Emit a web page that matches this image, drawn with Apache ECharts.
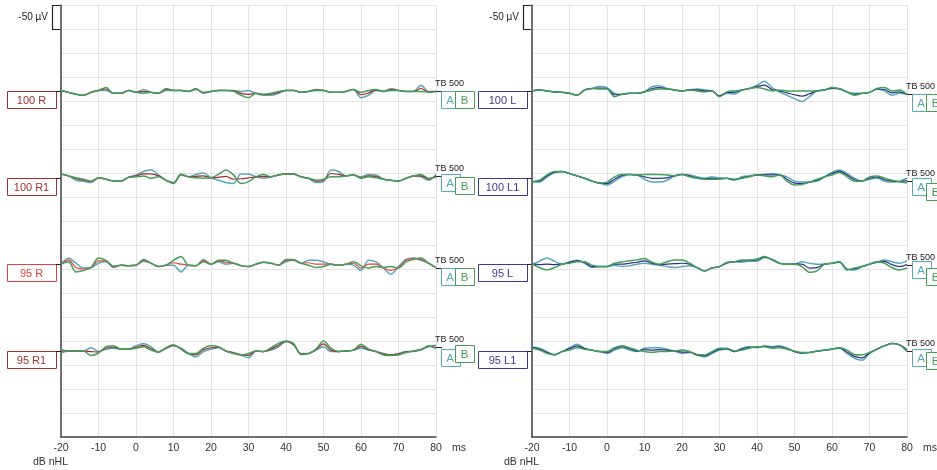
<!DOCTYPE html>
<html><head><meta charset="utf-8">
<script src="https://cdn.jsdelivr.net/npm/echarts/dist/echarts.min.js"></script>
<style>html,body{margin:0;padding:0;background:#fff}#c{width:937px;height:470px}</style>
</head><body><div id="c"></div>
<script>
// time axis (ms), sampled every 2 ms
const timeMs = [-20,-18,-16,-14,-12,-10,-8,-6,-4,-2,0,2,4,6,8,10,12,14,16,18,20,22,24,26,28,30,32,34,36,38,40,42,44,46,48,50,52,54,56,58,60,62,64,66,68,70,72,74,76,78,80];
const xTickLabels = [-20,-10,0,10,20,30,40,50,60,70,80];
const rowLabelsRight = ['100 R','100 R1','95 R','95 R1'];
const rowLabelsLeftEar = ['100 L','100 L1','95 L','95 L1'];
const scaleBarUv = 50;
const stimulus = 'TB 500';

// amplitudes in µV (negative plotted upward); A and B sub-averages and their mean
// 100 R
const r100A   = [-2,2,6,8,2,-2,-2,4,4,-2,2,-4,2,4,-2,-2,-2,0,-6,4,0,-2,-2,-2,0,-2,4,8,8,4,-2,-2,2,0,-4,-2,2,2,0,-4,13,8,-2,0,-6,-2,0,0,-13,0,0];
const r100B   = [-2,2,6,8,2,-2,-8,4,4,-2,2,4,2,4,-6,-2,-2,0,-4,2,0,-2,-2,0,8,13,4,6,4,0,-2,-2,2,0,-2,-2,2,2,0,-4,2,-2,-4,0,-2,-2,0,0,0,2,0];
const r100Avg = [-2,2,6,8,2,-2,-5,4,4,-2,2,0,2,4,-4,-2,-2,0,-5,3,0,-2,-2,-1,4,6,4,7,6,2,-2,-2,2,0,-3,-2,2,2,0,-4,7,3,-3,0,-4,-2,0,0,-6,1,0];
// 100 R1
const r100r1A   = [-8,-4,5,7,10,0,3,7,7,-1,-6,-13,-17,-6,5,12,-6,-2,-7,-10,0,5,10,12,-8,-8,-2,1,-2,-6,-8,-8,-2,1,10,8,-16,-13,-4,-6,-2,-7,-6,3,5,7,1,-4,-2,5,-7];
const r100r1B   = [-8,-4,0,3,7,0,3,7,7,-1,-2,-4,1,-2,5,10,-8,-2,0,1,0,-7,-16,-6,12,8,-2,-7,-2,-6,-8,-8,-2,1,5,3,-2,-2,-4,-6,1,-2,0,3,5,7,1,-4,-7,1,-1];
const r100r1Avg = [-8,-4,2,5,8,0,3,7,7,-1,-4,-8,-8,-4,5,11,-7,-2,-3,-4,0,-1,-3,3,2,0,-2,-3,-2,-6,-8,-8,-2,1,7,5,-9,-7,-4,-6,0,-4,-3,3,5,7,1,-4,-4,3,-4];
// 95 R
const r95A   = [0,-13,-2,8,7,-2,-5,7,2,3,2,-6,-2,5,2,2,16,2,3,-10,0,-5,0,-2,3,5,0,-4,-2,2,-5,-8,-2,-8,-8,-5,0,2,0,2,13,-8,-5,8,21,5,-10,-13,-8,-2,7];
const r95B   = [0,-5,16,13,7,-13,-8,4,2,3,2,-10,-2,5,2,-8,-16,2,3,-5,0,-8,-8,-2,3,5,0,-4,-2,2,-10,-10,-2,2,7,5,0,2,0,-5,3,8,5,7,5,8,-5,-10,-13,-2,7];
const r95Avg = [0,-9,7,10,7,-7,-7,6,2,3,2,-8,-2,5,2,-3,0,2,3,-8,0,-7,-4,-2,3,5,0,-4,-2,2,-8,-9,-2,-3,0,0,0,2,0,-2,8,0,0,8,13,7,-8,-12,-10,-2,7];
// 95 R1
const r95r1A   = [-3,1,1,1,-6,2,-3,-5,-3,-3,-10,-15,-8,3,-5,-10,-5,6,13,2,-3,-6,1,4,9,15,1,2,-1,-8,-19,-12,6,6,-1,-8,2,2,1,-1,-5,-1,2,6,9,6,2,2,-1,-10,-3];
const r95r1B   = [5,1,1,1,10,5,-8,-10,-3,-3,-5,-8,-1,3,-6,-12,-3,6,6,-5,-10,-8,1,6,9,6,1,2,-6,-15,-20,-15,8,6,-3,-20,-5,2,1,-1,-13,-3,2,9,10,9,4,1,-3,-8,-11];
const r95r1Avg = [1,1,1,1,2,3,-5,-7,-3,-3,-7,-11,-4,3,-5,-11,-4,6,9,-2,-6,-7,1,5,9,10,1,2,-3,-11,-19,-13,7,6,-2,-14,-1,2,1,-1,-9,-2,2,7,9,7,3,1,-2,-9,-7];
// 100 L
const l100A   = [-1,-3,-1,1,2,4,8,-3,-6,-10,-8,4,6,4,4,1,-10,-12,-6,-3,-1,-3,-5,-3,-1,9,4,6,-3,-6,-13,-21,-8,1,8,15,21,11,-1,-3,-6,-6,1,4,4,2,-5,-1,8,4,6];
const l100B   = [-1,-3,-1,1,2,4,8,-3,-6,-5,-5,11,6,4,4,1,-3,-5,-5,-3,-1,-3,-1,1,-1,11,1,-1,-3,-6,-8,-5,-1,-3,-1,-1,-1,-1,-1,-3,-8,-5,1,8,4,2,-6,-8,-1,-3,6];
const l100Avg = [-1,-3,-1,1,2,4,8,-3,-6,-7,-6,7,6,4,4,1,-6,-8,-5,-3,-1,-3,-3,-1,-1,10,2,2,-3,-6,-10,-13,-4,-1,3,7,10,5,-1,-3,-7,-5,1,6,4,2,-5,-4,3,1,6];
// 100 L1
const l100l1A   = [8,9,-2,-11,-13,-9,-4,1,7,11,15,7,-2,-7,-6,3,9,9,5,-4,-7,-6,-2,1,-2,0,1,5,-2,-4,-6,-7,-9,-6,-2,7,9,9,7,-2,-11,-16,-9,1,7,3,1,7,9,7,1];
const l100l1B   = [8,5,-6,-13,-13,-9,-4,1,7,11,9,-2,-7,-7,-6,-7,-7,-7,-6,-4,-7,-2,1,3,3,3,1,3,1,-2,-6,-4,-2,-6,7,15,14,9,3,-2,-6,-11,-2,7,7,-2,-4,1,5,8,11];
const l100l1Avg = [8,7,-4,-12,-13,-9,-4,1,7,11,12,3,-5,-7,-6,-2,1,1,0,-4,-7,-4,0,2,1,2,1,4,0,-3,-6,-6,-6,-6,3,11,12,9,5,-2,-9,-14,-6,4,7,1,-2,4,7,8,6];
// 95 L
const l95A   = [0,-6,-13,-6,0,-5,-8,-2,7,5,5,2,5,3,0,-2,0,2,5,7,5,3,7,14,8,5,-2,-5,-4,-6,-6,-14,-10,-2,0,0,-5,-2,0,0,-2,-4,10,12,5,0,-4,-9,-5,-2,-7];
const l95B   = [0,7,12,7,0,-2,-5,-5,2,5,5,-2,-5,-7,-9,-12,-4,0,-5,-9,-9,-2,7,14,8,5,-4,-5,-9,-9,-11,-16,-9,-2,0,0,5,17,14,0,-2,-5,12,8,5,0,-5,-2,7,12,8];
const l95Avg = [0,1,0,1,0,-4,-7,-4,5,5,5,0,0,-2,-4,-7,-2,1,0,-1,-2,0,7,14,8,5,-3,-5,-7,-8,-9,-15,-10,-2,0,0,0,8,7,0,-2,-5,11,10,5,0,-5,-6,1,5,1];
// 95 L1
const l95l1A   = [-8,-5,2,9,2,-6,-13,-5,-1,2,6,-1,-6,-1,2,-5,-6,-6,-3,1,6,4,9,13,6,-1,-3,2,-5,-8,-6,-10,-8,-10,-5,2,6,4,1,-1,-3,-5,6,16,20,6,-3,-10,-15,-12,-3];
const l95l1B   = [-5,-1,6,8,2,-1,-6,-3,-1,2,2,-6,-10,-6,-1,2,4,2,2,1,-1,2,8,9,2,-5,-5,1,-1,-5,-8,-8,-5,-6,-3,1,4,4,1,-1,-3,-6,-1,8,9,4,-3,-10,-15,-12,2];
const l95l1Avg = [-7,-3,4,9,2,-4,-10,-4,-1,2,4,-4,-8,-4,1,-2,-1,-2,-1,1,3,3,9,11,4,-3,-4,2,-3,-7,-7,-9,-7,-8,-4,2,5,4,1,-1,-3,-6,3,12,15,5,-3,-10,-15,-12,0];

// ---- layout / style ----
const COL_A = '#58a8ba', COL_B = '#44a058';
const DARKRED = '#a32a2a', RED = '#e8413c', NAVY = '#2f2f86';
const rowBaseUv = [180, 360, 540, 720];   // vertical offset of each row on the stacked axis
const panels = [
  { labels: rowLabelsRight,
    rows: [[r100A, r100B, r100Avg, DARKRED], [r100r1A, r100r1B, r100r1Avg, DARKRED], [r95A, r95B, r95Avg, RED], [r95r1A, r95r1B, r95r1Avg, DARKRED]] },
  { labels: rowLabelsLeftEar,
    rows: [[l100A, l100B, l100Avg, NAVY], [l100l1A, l100l1B, l100l1Avg, NAVY], [l95A, l95B, l95Avg, NAVY], [l95l1A, l95l1B, l95l1Avg, NAVY]] }
];

const chart = echarts.init(document.getElementById('c'), null, { renderer: 'canvas' });
const FONT = "'Liberation Sans', Arial, sans-serif";
const grids = [{ left: 61, top: 5, width: 375, height: 432 }, { left: 532, top: 5, width: 375, height: 432 }];
const xAxes = [], yAxes = [], series = [];
grids.forEach((g, gi) => {
  xAxes.push({ type: 'value', gridIndex: gi, min: xTickLabels[0], max: xTickLabels[xTickLabels.length - 1], interval: 10,
    axisLine: { show: true, onZero: false, lineStyle: { color: '#444', width: 1.5 } },
    axisTick: { show: false },
    axisLabel: { color: '#333', fontSize: 10.5, fontFamily: FONT, margin: 6 },
    splitLine: { show: true, lineStyle: { color: '#e4e4e4', width: 1 } } });
  yAxes.push({ type: 'value', gridIndex: gi, min: 0, max: 900, interval: scaleBarUv, inverse: true,
    axisLine: { show: true, onZero: false, lineStyle: { color: '#444', width: 1.5 } },
    axisTick: { show: false }, axisLabel: { show: false },
    splitLine: { show: true, lineStyle: { color: '#e4e4e4', width: 1 } } });
});
function lineSeries(gi, base, vals, color, w) {
  return { type: 'line', xAxisIndex: gi, yAxisIndex: gi, silent: true, animation: false,
    showSymbol: false, symbol: 'none', smooth: 0.3,
    data: timeMs.map((t, i) => [t, base + vals[i]]),
    lineStyle: { color: color, width: w } };
}
panels.forEach((p, gi) => {
  p.rows.forEach((r, ri) => {
    series.push(lineSeries(gi, rowBaseUv[ri], r[0], COL_A, 1.5));
    series.push(lineSeries(gi, rowBaseUv[ri], r[2], r[3], 1.2));
    series.push(lineSeries(gi, rowBaseUv[ri], r[1], COL_B, 1.5));
  });
});
chart.setOption({ animation: false, backgroundColor: '#fff', grid: grids, xAxis: xAxes, yAxis: yAxes, series: series });

// ---- annotations positioned through the axes ----
const els = [];
const P = (gi, x, y) => chart.convertToPixel({ gridIndex: gi }, [x, y]);
const R = v => Math.round(v) + 0.5;
panels.forEach((p, gi) => {
  const [ax, yTop] = P(gi, -20, 0);
  const [, y50] = P(gi, -20, scaleBarUv);
  const [xEnd, yBot] = P(gi, 80, 900);
  els.push({ type: 'polyline', shape: { points: [[ax - 1, R(yTop)], [R(ax - 9), R(yTop)], [R(ax - 9), R(y50)], [ax - 1, R(y50)]] },
    style: { stroke: '#222', lineWidth: 1.2, fill: null } });
  els.push({ type: 'text', x: ax - 13, y: (yTop + y50) / 2, style: { text: '-' + scaleBarUv + ' µV', align: 'right', verticalAlign: 'middle', fontSize: 10, fontFamily: FONT, fill: '#222' } });
  els.push({ type: 'text', x: xEnd + 16, y: yBot + 11, style: { text: 'ms', align: 'left', verticalAlign: 'middle', fontSize: 10.5, fontFamily: FONT, fill: '#333' } });
  els.push({ type: 'text', x: ax - 28, y: yBot + 25, style: { text: 'dB nHL', align: 'left', verticalAlign: 'middle', fontSize: 10.5, fontFamily: FONT, fill: '#333' } });
  p.rows.forEach((r, ri) => {
    const base = rowBaseUv[ri];
    const yS = R(P(gi, -20, base)[1]);
    const col = r[3] === NAVY ? '#3b3b8f' : (r[3] === RED ? '#e8413c' : '#a0302f');
    els.push({ type: 'rect', shape: { x: R(ax - 54), y: yS, width: 49, height: 17 }, style: { fill: '#fff', stroke: col, lineWidth: 1 } });
    els.push({ type: 'text', x: ax - 54 + 24.5, y: yS + 9, style: { text: p.labels[ri], align: 'center', verticalAlign: 'middle', fontSize: 11, fontFamily: FONT, fill: col } });
    els.push({ type: 'line', shape: { x1: ax - 5, y1: yS, x2: ax, y2: yS }, style: { stroke: '#222', lineWidth: 1 } });
    const n = timeMs.length - 1;
    const yAvgE = R(P(gi, 80, base + r[2][n])[1]);
    const yAE = R(P(gi, 80, base + r[0][n])[1]);
    const yBE = R(P(gi, 80, base + r[1][n])[1]);
    els.push({ type: 'line', shape: { x1: xEnd, y1: yAvgE, x2: xEnd + 6, y2: yAvgE }, style: { stroke: '#222', lineWidth: 1 } });
    els.push({ type: 'text', x: xEnd - 1, y: yAvgE - 8, style: { text: stimulus, align: 'left', verticalAlign: 'middle', fontSize: 9, fontFamily: "'Liberation Sans Narrow', 'Liberation Sans', sans-serif", fill: '#222' } });
    els.push({ type: 'rect', shape: { x: R(xEnd + 5), y: yAE, width: 19, height: 17 }, style: { fill: '#fff', stroke: COL_A, lineWidth: 1 } });
    els.push({ type: 'text', x: xEnd + 14, y: yAE + 9.5, style: { text: 'A', align: 'center', verticalAlign: 'middle', fontSize: 11.5, fontFamily: FONT, fill: COL_A } });
    els.push({ type: 'rect', shape: { x: R(xEnd + 19), y: yBE, width: 19, height: 17 }, style: { fill: '#fff', stroke: COL_B, lineWidth: 1 } });
    els.push({ type: 'text', x: xEnd + 28.5, y: yBE + 9.5, style: { text: 'B', align: 'center', verticalAlign: 'middle', fontSize: 11.5, fontFamily: FONT, fill: COL_B } });
  });
});
chart.setOption({ graphic: els });
</script>
</body></html>
